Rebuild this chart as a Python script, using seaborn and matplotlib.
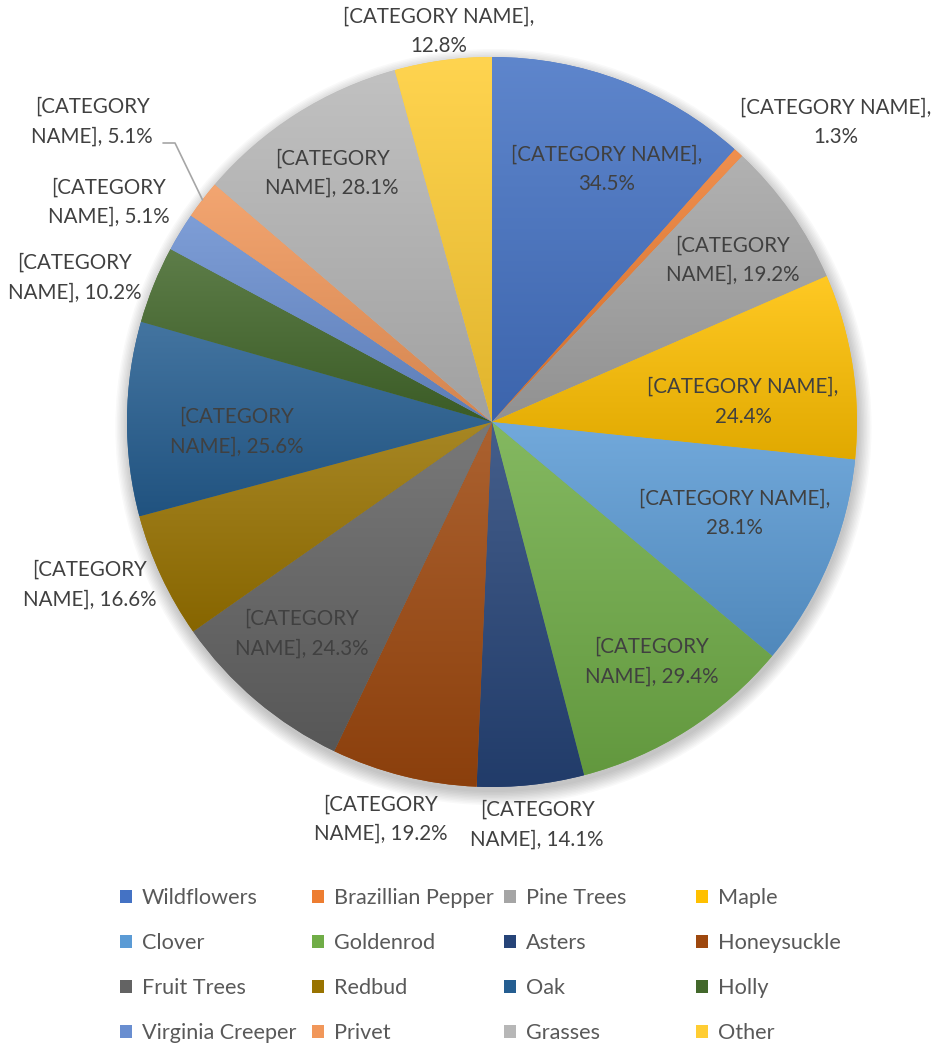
import numpy as np
import matplotlib.pyplot as plt
import matplotlib.colors as mcolors
from matplotlib.patches import Patch, Circle
import seaborn as sns

# data
categories = ["Wildflowers", "Brazillian Pepper", "Pine Trees", "Maple",
              "Clover", "Goldenrod", "Asters", "Honeysuckle",
              "Fruit Trees", "Redbud", "Oak", "Holly",
              "Virginia Creeper", "Privet", "Grasses", "Other"]
shares = [34.5, 1.3, 19.2, 24.4, 28.1, 29.4, 14.1, 19.2,
          24.3, 16.6, 25.6, 10.2, 5.1, 5.1, 28.1, 12.8]
colors = ["#4472C4", "#ED7D31", "#A5A5A5", "#FFC000",
          "#5B9BD5", "#70AD47", "#264478", "#9E480E",
          "#636363", "#997300", "#255E91", "#43682B",
          "#698ED0", "#F1975A", "#B7B7B7", "#FFCD33"]

# label layout (radius factor, angle nudge in degrees, one-line first row?)
label_r = [0.76, 1.25, 0.795, 0.69, 0.71, 0.79, 1.11, 1.13,
           0.78, 1.19, 0.70, 1.21, 1.21, 1.37, 0.81, 1.08]
label_nudge = [3.5, 6.5, 1.3, 4.2, -2.2, -1.3, -0.3, 1.7,
               1.6, 3.0, -2.7, -3.0, -1.5, -0.6, -0.3, 0.0]
wide = [True, True, False, True, True, False, False, False,
        False, False, False, False, False, False, False, True]

sns.set_style("white")
plt.rcParams['font.family'] = ['Lato', 'DejaVu Sans']

W, H = 937, 1044
fig = plt.figure(figsize=(W / 100, H / 100), dpi=100)
cx, cy, R = 492, 422, 365
half = 440
ax = fig.add_axes([(cx - half) / W, (H - cy - half) / H, 2 * half / W, 2 * half / H])

# soft shadow under the pie
for i in range(10):
    ax.add_patch(Circle((0.004, -0.014), 1.0 + 0.004 * i, color='black',
                        alpha=0.025, lw=0, zorder=0))

wedges, _ = ax.pie(shares, colors=colors, startangle=90, counterclock=False,
                   radius=1, wedgeprops=dict(linewidth=0, zorder=1))

# vertical gradient inside each slice
for w, c in zip(wedges, colors):
    t = np.linspace(np.radians(w.theta1), np.radians(w.theta2), 60)
    xs = np.concatenate([[0], np.cos(t)])
    ys = np.concatenate([[0], np.sin(t)])
    base = np.array(mcolors.to_rgb(c))
    top = base + (1 - base) * 0.14
    bot = base * 0.88
    grad = np.linspace(0, 1, 128)[:, None]
    img = top[None, :] * (1 - grad) + bot[None, :] * grad
    img = np.repeat(img[:, None, :], 2, axis=1)
    im = ax.imshow(img, extent=[xs.min(), xs.max(), ys.min(), ys.max()],
                   origin='upper', aspect='auto', zorder=2, interpolation='bilinear')
    im.set_clip_path(w)

lim = half / R
ax.set_xlim(-lim, lim)
ax.set_ylim(-lim, lim)
ax.set_aspect('equal')
ax.axis('off')

# data labels
total = sum(shares)
cum = np.cumsum([0] + shares)
for i, v in enumerate(shares):
    mid = (cum[i] + v / 2) / total * 360 + label_nudge[i]
    a = np.radians(mid)
    x, y = label_r[i] * np.sin(a), label_r[i] * np.cos(a)
    if wide[i]:
        txt = f"[CATEGORY NAME],\n{v:.1f}%"
    else:
        txt = f"[CATEGORY\nNAME], {v:.1f}%"
    ax.text(x, y, txt, ha='center', va='center', fontsize=14.8,
            color='#404040', linespacing=1.6, zorder=5)

# leader line for Privet
i = categories.index("Privet")
a = np.radians((cum[i] + shares[i] / 2) / total * 360)
ex, ey = np.sin(a), np.cos(a)
y0 = (cy - 143) / R
ax.plot([(163 - cx) / R, (175 - cx) / R, ex], [y0, y0, ey],
        color='#A6A6A6', lw=1.2, zorder=4)

# legend: 4 evenly spaced columns, filled row by row
handles = [Patch(facecolor=c, edgecolor='none') for c in colors]
for col in range(4):
    fig.legend(handles[col::4], categories[col::4],
               loc='upper left', bbox_to_anchor=((120 + 192 * col) / W, 1 - 888 / H),
               frameon=False, fontsize=15.6, labelcolor='#595959',
               handlelength=0.55, handleheight=0.55, handletextpad=0.45,
               labelspacing=1.15, borderpad=0, borderaxespad=0)

fig.savefig("out.png", dpi=100)
